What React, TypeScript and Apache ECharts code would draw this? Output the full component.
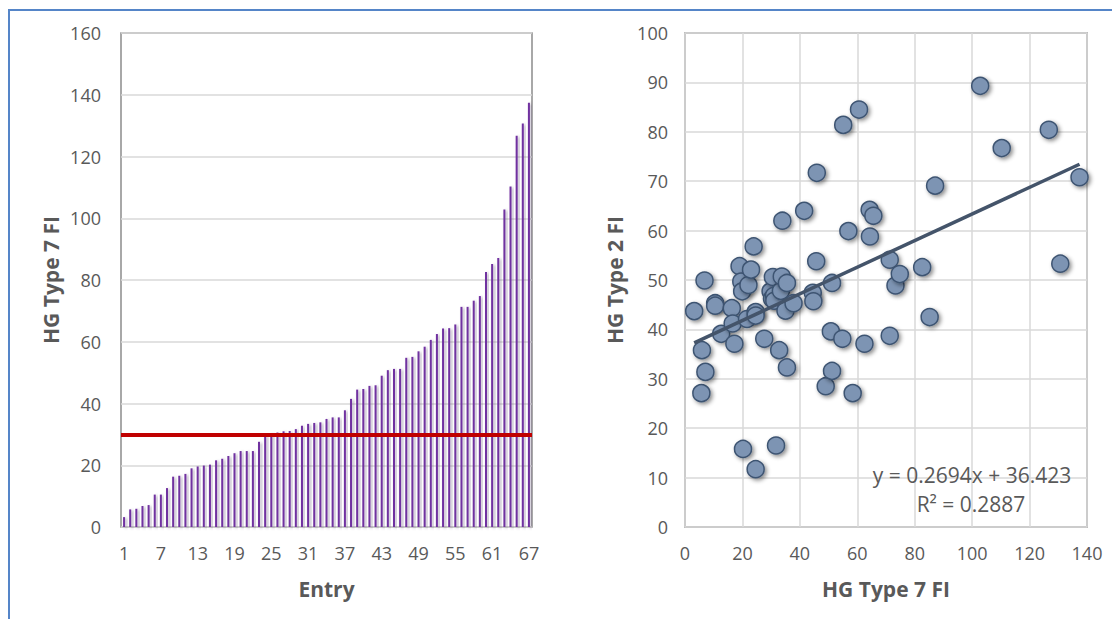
import React, { useEffect, useRef } from "react";
import * as echarts from "echarts";

// HG Type 7 FI per entry (sorted ascending), also x of the scatter
const type7FI = [
  3.2, 5.7, 5.9, 6.8, 7.1, 10.5, 10.5, 12.6, 16.3, 16.6,
  17.2, 19.0, 19.6, 19.9, 20.2, 21.6, 22.1, 23.0, 23.9, 24.6,
  24.6, 24.6, 27.6, 29.8, 30.3, 30.6, 31.0, 31.1, 31.7, 32.8,
  33.4, 33.7, 33.9, 35.0, 35.5, 35.5, 37.8, 41.5, 44.5, 44.7,
  45.7, 45.9, 49.0, 50.8, 51.2, 51.2, 54.8, 55.1, 56.9, 58.4,
  60.6, 62.5, 64.3, 64.4, 65.6, 71.3, 71.3, 73.3, 74.8, 82.6,
  85.2, 87.1, 102.8, 110.3, 126.7, 130.7, 137.4,
];

// HG Type 2 FI for the same entries
const type2FI = [
  43.7, 27.1, 35.8, 49.9, 31.4, 45.3, 44.8, 39.1, 44.3, 41.2,
  37.1, 52.8, 49.7, 47.7, 15.8, 42.1, 49.0, 52.1, 56.8, 43.5,
  42.8, 11.7, 38.1, 47.7, 46.2, 50.6, 46.8, 45.8, 16.5, 35.8,
  47.8, 50.7, 62.0, 43.8, 49.4, 32.3, 45.3, 64.0, 47.4, 45.7,
  53.8, 71.7, 28.5, 39.6, 49.4, 31.6, 38.1, 81.4, 59.9, 27.1,
  84.5, 37.1, 64.2, 58.8, 63.0, 54.1, 38.7, 48.9, 51.2, 52.6,
  42.5, 69.1, 89.3, 76.7, 80.4, 53.3, 70.8,
];

const threshold = 30;
const trendSlope = 0.2694;
const trendIntercept = 36.423;
const rSquared = 0.2887;

const entries = type7FI.map((_, i) => String(i + 1));

const labelColor = "#595959";
const font = "'Open Sans', 'Noto Sans', sans-serif";

export default function App() {
  const ref = useRef<HTMLDivElement>(null);

  useEffect(() => {
    if (!ref.current) return;
    const chart = echarts.init(ref.current, undefined, { renderer: "svg" });
    const xMin = Math.min(...type7FI);
    const xMax = Math.max(...type7FI);
    const trend = [
      [xMin, trendSlope * xMin + trendIntercept],
      [xMax, trendSlope * xMax + trendIntercept],
    ];
    const gridBase = {
      show: true,
      borderColor: "#8c8c8c",
      borderWidth: 1.5,
      backgroundColor: "#ffffff",
    };
    const axisLabel = { color: labelColor, fontSize: 18, fontFamily: font };
    const nameStyle = { color: labelColor, fontSize: 21, fontWeight: "bold" as const, fontFamily: font };
    const split = { show: true, lineStyle: { color: "#d9d9d9", width: 1.5 } };

    chart.setOption({
      animation: false,
      backgroundColor: "#ffffff",
      textStyle: { fontFamily: font },
      grid: [
        { ...gridBase, left: 121, top: 33, width: 411, height: 494 },
        { ...gridBase, left: 685, top: 33, width: 402, height: 494 },
      ],
      xAxis: [
        {
          type: "category",
          gridIndex: 0,
          data: entries,
          boundaryGap: true,
          axisLine: { show: false },
          axisTick: { show: false },
          axisLabel: { ...axisLabel, interval: 5, margin: 17 },
          splitLine: { show: false },
          name: "Entry",
          nameLocation: "middle",
          nameGap: 51,
          nameTextStyle: nameStyle,
        },
        {
          type: "value",
          gridIndex: 1,
          min: 0,
          max: 140,
          interval: 20,
          axisLine: { show: false },
          axisTick: { show: false },
          axisLabel: { ...axisLabel, margin: 17 },
          splitLine: split,
          name: "HG Type 7 FI",
          nameLocation: "middle",
          nameGap: 51,
          nameTextStyle: nameStyle,
        },
      ],
      yAxis: [
        {
          type: "value",
          gridIndex: 0,
          min: 0,
          max: 160,
          interval: 20,
          axisLine: { show: false },
          axisTick: { show: false },
          axisLabel: { ...axisLabel, margin: 20 },
          splitLine: split,
          name: "HG Type 7 FI",
          nameLocation: "middle",
          nameGap: 60,
          nameRotate: 90,
          nameTextStyle: nameStyle,
        },
        {
          type: "value",
          gridIndex: 1,
          min: 0,
          max: 100,
          interval: 10,
          axisLine: { show: false },
          axisTick: { show: false },
          axisLabel: { ...axisLabel, margin: 17 },
          splitLine: split,
          name: "HG Type 2 FI",
          nameLocation: "middle",
          nameGap: 60,
          nameRotate: 90,
          nameTextStyle: nameStyle,
        },
      ],
      series: [
        {
          type: "bar",
          xAxisIndex: 0,
          yAxisIndex: 0,
          data: type7FI,
          barWidth: 2,
          itemStyle: {
            color: "#7030a0",
            shadowColor: "rgba(80,60,100,0.45)",
            shadowBlur: 3,
            shadowOffsetX: 2,
            shadowOffsetY: 1,
          },
          markLine: {
            silent: true,
            symbol: "none",
            label: { show: false },
            lineStyle: { color: "#c00000", width: 4, type: "solid" },
            data: [{ yAxis: threshold }],
            z: 5,
          },
        },
        {
          type: "scatter",
          xAxisIndex: 1,
          yAxisIndex: 1,
          data: type7FI.map((x, i) => [x, type2FI[i]]),
          symbolSize: 17,
          itemStyle: {
            color: "#7d94b3",
            borderColor: "#3e5472",
            borderWidth: 1.5,
            opacity: 1,
            shadowColor: "rgba(0,0,0,0.45)",
            shadowBlur: 4,
            shadowOffsetX: 2,
            shadowOffsetY: 2,
          },
          z: 3,
        },
        {
          type: "line",
          xAxisIndex: 1,
          yAxisIndex: 1,
          data: trend,
          symbol: "none",
          lineStyle: { color: "#44546a", width: 3.5 },
          z: 4,
        },
      ],
      graphic: [
        {
          type: "text",
          x: 972,
          y: 464,
          z: 10,
          style: {
            text: `y = ${trendSlope}x + ${trendIntercept}`,
            fill: labelColor,
            fontSize: 21,
            fontFamily: font,
            align: "center",
          },
        },
        {
          type: "text",
          x: 971,
          y: 493,
          z: 10,
          style: {
            text: `R² = ${rSquared}`,
            fill: labelColor,
            fontSize: 21,
            fontFamily: font,
            align: "center",
          },
        },
        {
          type: "line",
          shape: { x1: 8, y1: 10, x2: 1112, y2: 10 },
          style: { stroke: "#5585c8", lineWidth: 2 },
        },
        {
          type: "line",
          shape: { x1: 9, y1: 10, x2: 9, y2: 619 },
          style: { stroke: "#5585c8", lineWidth: 2 },
        },
      ],
    });
    return () => chart.dispose();
  }, []);

  return (
    <div
      ref={ref}
      style={{ position: "fixed", left: 0, top: 0, width: 1112, height: 619 }}
    />
  );
}
